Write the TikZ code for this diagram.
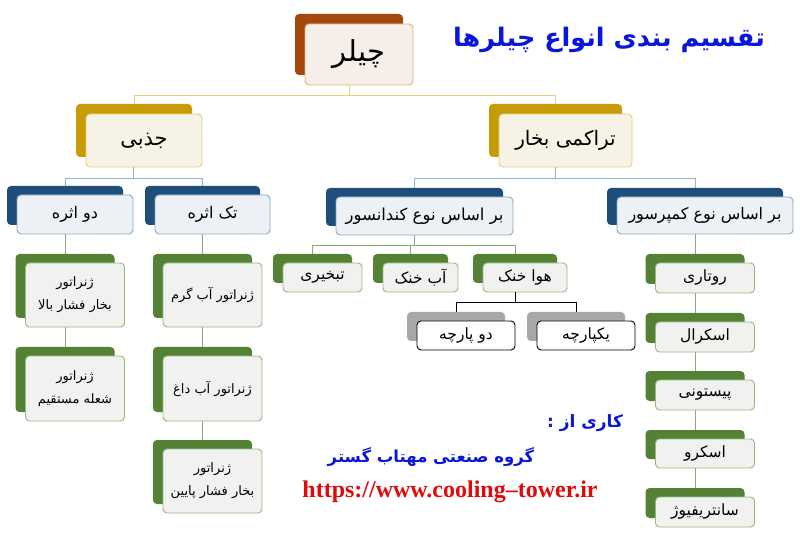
\documentclass[tikz,border=0pt]{standalone}
\usepackage{fontspec}
\usetikzlibrary{shadows}
\TeXXeTstate=1
\newfontfamily\arabicfont[Script=Arabic]{DejaVu Sans}
\newfontfamily\urlfont{Liberation Serif}
\newcommand\pfa[1]{{\arabicfont\beginR #1\endR}}
\definecolor{browntab}{HTML}{A4480F}
\definecolor{brownborder}{HTML}{D9B57A}
\definecolor{brownfill}{HTML}{F6EEE8}
\definecolor{goldtab}{HTML}{C59C08}
\definecolor{goldborder}{HTML}{E6CF6E}
\definecolor{goldfill}{HTML}{F7F2E6}
\definecolor{goldline}{HTML}{E8CF78}
\definecolor{bluetab}{HTML}{1F4E7A}
\definecolor{blueborder}{HTML}{86A9C6}
\definecolor{bluefill}{HTML}{EDF1F5}
\definecolor{blueline}{HTML}{8FB3D0}
\definecolor{greentab}{HTML}{548235}
\definecolor{greenborder}{HTML}{98B882}
\definecolor{greenfill}{HTML}{F1F1F0}
\definecolor{greenline}{HTML}{8DA878}
\definecolor{graytab}{HTML}{A8A8A8}
\definecolor{titleblue}{HTML}{0A16D9}
\definecolor{urlred}{HTML}{E10A0A}
\tikzset{
  basebox/.style={rectangle, rounded corners=4pt, line width=0.9pt, inner sep=2pt, align=center},
  brownbox/.style={basebox, draw=brownborder, fill=brownfill,
    general shadow={fill=browntab, shadow xshift=-10pt, shadow yshift=10pt}},
  goldbox/.style={basebox, draw=goldborder, fill=goldfill,
    general shadow={fill=goldtab, shadow xshift=-10pt, shadow yshift=10pt}},
  bluebox/.style={basebox, draw=blueborder, fill=bluefill,
    general shadow={fill=bluetab, shadow xshift=-10pt, shadow yshift=9pt}},
  greenbox/.style={basebox, draw=greenborder, fill=greenfill,
    general shadow={fill=greentab, shadow xshift=-10pt, shadow yshift=9pt}},
  graybox/.style={basebox, draw=black, fill=white,
    general shadow={fill=graytab, shadow xshift=-10pt, shadow yshift=9pt}},
  conn/.style={line width=0.9pt},
  smalltext/.style={font=\fontsize{15.5}{18}\selectfont},
  leaftext/.style={font=\fontsize{13}{15}\selectfont},
}
\begin{document}
\begin{tikzpicture}[x=1pt,y=-1pt]
\useasboundingbox[fill=white] (0,0) rectangle (800,534);

% title
\node[text=titleblue, font=\fontsize{25.5}{30}\selectfont\bfseries] (title) at (609,40) {\pfa{تقسیم بندی انواع چیلرها}};

% level 0
\node[brownbox, minimum width=108pt, minimum height=61pt, font=\fontsize{29}{32}\selectfont] (chiler) at (359,54.5) {\pfa{چیلر}};

% level 1
\node[goldbox, minimum width=116pt, minimum height=53pt, font=\fontsize{21}{24}\selectfont] (jazbi) at (144,140.5) {\pfa{جذبی}};
\node[goldbox, minimum width=133pt, minimum height=53pt, font=\fontsize{20}{24}\selectfont] (torak) at (565.5,140.5) {\pfa{تراکمی بخار}};

% level 2
\node[bluebox, minimum width=116pt, minimum height=39pt, font=\fontsize{16}{19}\selectfont] (doasare) at (75,214.5) {\pfa{دو اثره}};
\node[bluebox, minimum width=115pt, minimum height=39pt, font=\fontsize{16}{19}\selectfont] (takasare) at (212.5,214.5) {\pfa{تک اثره}};
\node[bluebox, minimum width=177pt, minimum height=38pt, font=\fontsize{16.5}{19}\selectfont] (kond) at (424.5,216) {\pfa{بر اساس نوع کندانسور}};
\node[bluebox, minimum width=176pt, minimum height=37pt, font=\fontsize{16}{19}\selectfont] (komp) at (705,215.5) {\pfa{بر اساس نوع کمپرسور}};

% absorption leaves
\node[greenbox, leaftext, minimum width=99pt, minimum height=64pt] (g1) at (75,295) {\pfa{ژنراتور}\\[8pt]\pfa{بخار فشار بالا}};
\node[greenbox, leaftext, minimum width=99pt, minimum height=65pt] (g2) at (75,388.5) {\pfa{ژنراتور}\\[8pt]\pfa{شعله مستقیم}};
\node[greenbox, leaftext, minimum width=99pt, minimum height=64pt] (g3) at (212.5,295) {\pfa{ژنراتور آب گرم}};
\node[greenbox, leaftext, minimum width=99pt, minimum height=65pt] (g4) at (212.5,388.5) {\pfa{ژنراتور آب داغ}};
\node[greenbox, leaftext, minimum width=99pt, minimum height=64pt] (g5) at (212.5,481) {\pfa{ژنراتور}\\[8pt]\pfa{بخار فشار پایین}};

% condenser leaves
\node[greenbox, smalltext, minimum width=79pt, minimum height=29pt] (tabkhiri) at (322.5,277.5) {\pfa{تبخیری}};
\node[greenbox, smalltext, minimum width=75pt, minimum height=29pt] (abkh) at (420.5,277.5) {\pfa{آب خنک}};
\node[greenbox, smalltext, minimum width=84pt, minimum height=29pt] (havakh) at (525,277.5) {\pfa{هوا خنک}};
\node[graybox, smalltext, minimum width=98pt, minimum height=29pt] (doparche) at (466,335.5) {\pfa{دو پارچه}};
\node[graybox, smalltext, minimum width=98pt, minimum height=29pt] (yekparche) at (586,335.5) {\pfa{یکپارچه}};

% compressor leaves
\node[greenbox, smalltext, minimum width=99pt, minimum height=30pt] (rotary) at (705,278) {\pfa{روتاری}};
\node[greenbox, smalltext, minimum width=99pt, minimum height=30pt] (scroll) at (705,337) {\pfa{اسکرال}};
\node[greenbox, smalltext, minimum width=99pt, minimum height=30pt] (piston) at (705,395) {\pfa{پیستونی}};
\node[greenbox, smalltext, minimum width=99pt, minimum height=29pt] (screw) at (705,453.5) {\pfa{اسکرو}};
\node[greenbox, smalltext, minimum width=99pt, minimum height=30pt] (centrif) at (705,512) {\pfa{سانتریفیوژ}};

% credits
\node[text=titleblue, font=\fontsize{17}{20}\selectfont\bfseries] (karias) at (585,423) {\pfa{کاری از :}};
\node[text=titleblue, font=\fontsize{16.5}{20}\selectfont\bfseries] (group) at (431,457) {\pfa{گروه صنعتی مهتاب گستر}};
\node[text=urlred, font=\urlfont\fontsize{24}{28}\selectfont\bfseries] (url) at (450,492) {https://www.cooling–tower.ir};

% connectors
\draw[conn, goldline] ([xshift=-10pt]chiler.south) -- ++(0,10) -| ([xshift=-10pt,yshift=10pt]jazbi.north);
\draw[conn, goldline] ([xshift=-10pt]chiler.south) -- ++(0,10) -| ([xshift=-10pt,yshift=10pt]torak.north);
\draw[conn, blueline] ([xshift=-11pt]jazbi.south) -- ++(0,11) -| ([xshift=-10pt,yshift=9pt]doasare.north);
\draw[conn, blueline] ([xshift=-11pt]jazbi.south) -- ++(0,11) -| ([xshift=-10pt,yshift=9pt]takasare.north);
\draw[conn, blueline] ([xshift=-10pt]torak.south) -- ++(0,11) -| ([xshift=-10pt,yshift=9pt]kond.north);
\draw[conn, blueline] ([xshift=-10pt]torak.south) -- ++(0,11) -| ([xshift=-10pt,yshift=9pt]komp.north);
\draw[conn, greenline] ([xshift=-10pt]doasare.south) -- ([xshift=-10pt,yshift=9pt]g1.north);
\draw[conn, greenline] ([xshift=-10pt]g1.south) -- ([xshift=-10pt,yshift=9pt]g2.north);
\draw[conn, greenline] ([xshift=-10pt]takasare.south) -- ([xshift=-10pt,yshift=9pt]g3.north);
\draw[conn, greenline] ([xshift=-10pt]g3.south) -- ([xshift=-10pt,yshift=9pt]g4.north);
\draw[conn, greenline] ([xshift=-10pt]g4.south) -- ([xshift=-10pt,yshift=9pt]g5.north);
\draw[conn, greenline] ([xshift=-10pt]kond.south) -- ++(0,10) -| ([xshift=-10pt,yshift=9pt]tabkhiri.north);
\draw[conn, greenline] ([xshift=-10pt]kond.south) -- ++(0,10) -| ([xshift=-10pt,yshift=9pt]abkh.north);
\draw[conn, greenline] ([xshift=-10pt]kond.south) -- ++(0,10) -| ([xshift=-10pt,yshift=9pt]havakh.north);
\draw[conn, black] ([xshift=-10pt]havakh.south) -- ++(0,10) -| ([xshift=-10pt,yshift=9pt]doparche.north);
\draw[conn, black] ([xshift=-10pt]havakh.south) -- ++(0,10) -| ([xshift=-10pt,yshift=9pt]yekparche.north);
\draw[conn, greenline] ([xshift=-10pt]komp.south) -- ([xshift=-10pt,yshift=9pt]rotary.north);
\draw[conn, greenline] ([xshift=-10pt]rotary.south) -- ([xshift=-10pt,yshift=9pt]scroll.north);
\draw[conn, greenline] ([xshift=-10pt]scroll.south) -- ([xshift=-10pt,yshift=9pt]piston.north);
\draw[conn, greenline] ([xshift=-10pt]piston.south) -- ([xshift=-10pt,yshift=9pt]screw.north);
\draw[conn, greenline] ([xshift=-10pt]screw.south) -- ([xshift=-10pt,yshift=9pt]centrif.north);
\end{tikzpicture}
\end{document}
